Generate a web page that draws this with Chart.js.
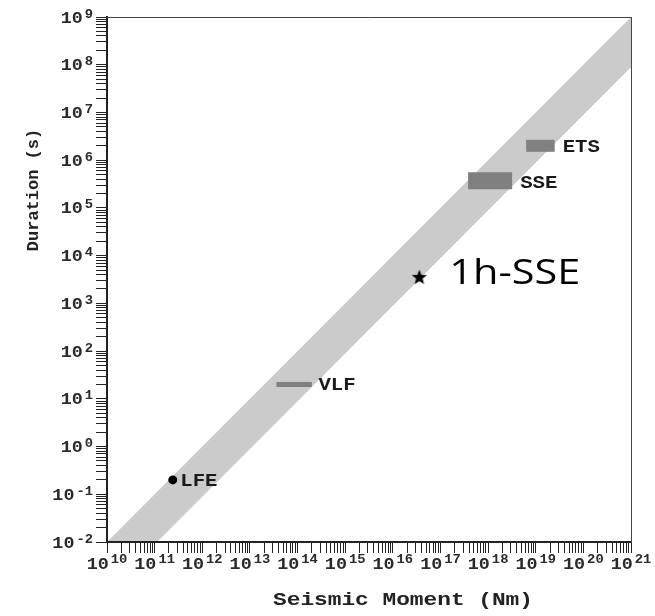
<!DOCTYPE html>
<html>
<head>
<meta charset="utf-8">
<title>Duration vs Seismic Moment</title>
<script src="https://cdn.jsdelivr.net/npm/chart.js@4.4.1/dist/chart.umd.min.js"></script>
<style>
html,body{margin:0;padding:0;background:#ffffff;}
#wrap{position:relative;width:655px;height:616px;}
canvas{display:block;}
</style>
</head>
<body>
<div id="wrap"><canvas id="chart" width="655" height="616"></canvas></div>
<script>
// ---------------- data ----------------
const xExponents = [10, 11, 12, 13, 14, 15, 16, 17, 18, 19, 20, 21];
const yExponents = [-2, -1, 0, 1, 2, 3, 4, 5, 6, 7, 8, 9];
const minorMultipliers = [1, 2, 3, 4, 5, 6, 7, 8, 9];
const xAxisTitle = 'Seismic Moment (Nm)';
const yAxisTitle = 'Duration (s)';

// scaling band (upper and lower edge)
const bandMoment   = [1e10, 1e21];
const bandUpperDur = [1e-2, 1e9];
const bandLowerDur = [8.9e-4, 8.9e7];

// event classes
const lfeMoment  = [2.4e11];          const lfeDuration  = [0.2];
const vlfMoment  = [3.6e13, 2.0e14];  const vlfDuration  = [20, 20];
const sseMoment  = [3.8e17, 3.2e18];  const sseDuration  = [3.7e5, 3.7e5];
const etsMoment  = [6.3e18, 2.5e19];  const etsDuration  = [2.0e6, 2.0e6];
const hsseMoment = [3.6e16];          const hsseDuration = [3600];

const eventLabels = ['LFE', 'VLF', 'SSE', 'ETS', '1h-SSE'];

// ---------------- helpers ----------------
const pts = (xs, ys) => xs.map((x, i) => ({ x: x, y: ys[i] }));

function makeStar(size) {
  const c = document.createElement('canvas');
  c.width = size; c.height = size;
  const g = c.getContext('2d');
  const cx = size / 2, cy = size / 2 + size * 0.05, R = size / 2, r = R * 0.42;
  g.fillStyle = '#000';
  g.beginPath();
  for (let i = 0; i < 10; i++) {
    const a = -Math.PI / 2 + i * Math.PI / 5;
    const rr = (i % 2) ? r : R;
    g.lineTo(cx + rr * Math.cos(a), cy + rr * Math.sin(a));
  }
  g.closePath();
  g.fill();
  return c;
}

function textWidth(ctx, txt, font, sx) {
  ctx.save(); ctx.font = font;
  const w = ctx.measureText(txt).width * sx;
  ctx.restore();
  return w;
}
function drawStretched(ctx, txt, x, y, font, color, sx) {
  ctx.save();
  ctx.font = font; ctx.fillStyle = color;
  ctx.textAlign = 'left'; ctx.textBaseline = 'alphabetic';
  ctx.translate(x, y); ctx.scale(sx, 1);
  ctx.fillText(txt, 0, 0);
  ctx.restore();
}

function logTicks(exps) {
  const out = [];
  exps.forEach((e, i) => {
    minorMultipliers.forEach(m => {
      if (i === exps.length - 1 && m > 1) return;
      out.push({ value: m * Math.pow(10, e) });
    });
  });
  return out;
}

// ---------------- styles ----------------
const MONO = '"Liberation Mono", "DejaVu Sans Mono", monospace';
const tickMain = 'bold 16px ' + MONO;
const tickSup = 'bold 12px ' + MONO;
const tickColor = '#2a2a2a';
const STRETCH = 1.15;
const labelFont = 'bold 18px ' + MONO;
const labelColor = '#1a1a1a';

const textPlugin = {
  id: 'texts',
  afterDraw(chart) {
    const ctx = chart.ctx;
    const xs = chart.scales.x, ys = chart.scales.y;
    const ca = chart.chartArea;

    // event annotations
    chart.data.datasets.forEach((ds, i) => {
      if (!ds.annot) return;
      const meta = chart.getDatasetMeta(i);
      const el = meta.data[meta.data.length - 1];
      const a = ds.annot;
      drawStretched(ctx, a.text, el.x + a.dx, el.y + a.dy, a.font, a.color, a.sx);
    });

    // x tick labels (10^n)
    xExponents.forEach(e => {
      const px = xs.getPixelForValue(Math.pow(10, e));
      const wm = textWidth(ctx, '10', tickMain, STRETCH);
      const wsu = textWidth(ctx, String(e), tickSup, STRETCH);
      const gap = 2;
      const start = px - (wm + gap + wsu) / 2;
      drawStretched(ctx, '10', start, xs.top + 27, tickMain, tickColor, STRETCH);
      drawStretched(ctx, String(e), start + wm + gap, xs.top + 21, tickSup, tickColor, STRETCH);
    });

    // y tick labels (10^n)
    yExponents.forEach(e => {
      const py = ys.getPixelForValue(Math.pow(10, e));
      const wm = textWidth(ctx, '10', tickMain, STRETCH);
      const wsu = textWidth(ctx, String(e), tickSup, STRETCH);
      const gap = 2;
      const right = ys.right - 14;
      const start = right - (wm + gap + wsu);
      drawStretched(ctx, '10', start, py + 5.5, tickMain, tickColor, STRETCH);
      drawStretched(ctx, String(e), start + wm + gap, py + 0.5, tickSup, tickColor, STRETCH);
    });

    // x axis title
    const xtFont = 'bold 19px ' + MONO;
    const xtw = textWidth(ctx, xAxisTitle, xtFont, 1.2);
    const xtc = (ca.left + ca.right) / 2 + 34;
    drawStretched(ctx, xAxisTitle, xtc - xtw / 2, ca.bottom + 63, xtFont, '#222', 1.2);

    // y axis title (rotated)
    const ytFont = 'bold 17px ' + MONO;
    ctx.save();
    ctx.font = ytFont;
    const ytw = ctx.measureText(yAxisTitle).width;
    ctx.translate(38, ca.top + 173);
    ctx.rotate(-Math.PI / 2);
    ctx.fillStyle = '#222';
    ctx.textAlign = 'left'; ctx.textBaseline = 'alphabetic';
    ctx.fillText(yAxisTitle, -ytw / 2, 0);
    ctx.restore();
  }
};

const axisCommon = {
  type: 'logarithmic',
  ticks: { display: false, autoSkip: false },
  grid: { display: true, drawOnChartArea: false, drawTicks: true, tickLength: 11, color: '#222', lineWidth: 1 },
  border: { display: true, color: '#222', width: 2, z: 1 }
};

const chart = new Chart(document.getElementById('chart'), {
  type: 'line',
  data: {
    datasets: [
      { data: pts(vlfMoment, vlfDuration), order: 1, borderColor: '#808080', borderWidth: 5, borderCapStyle: 'butt', pointRadius: 0, fill: false,
        annot: { text: eventLabels[1], dx: 6.5, dy: 6, font: labelFont, color: labelColor, sx: STRETCH } },
      { data: pts(sseMoment, sseDuration), order: 1, borderColor: '#808080', borderWidth: 17, borderCapStyle: 'butt', pointRadius: 0, fill: false,
        annot: { text: eventLabels[2], dx: 8, dy: 7.5, font: labelFont, color: labelColor, sx: STRETCH } },
      { data: pts(etsMoment, etsDuration), order: 1, borderColor: '#808080', borderWidth: 12, borderCapStyle: 'butt', pointRadius: 0, fill: false,
        annot: { text: eventLabels[3], dx: 8, dy: 6.5, font: labelFont, color: labelColor, sx: STRETCH } },
      { data: pts(lfeMoment, lfeDuration), order: 0, showLine: false, pointRadius: 4.5, pointBackgroundColor: '#000', pointBorderWidth: 0, fill: false,
        annot: { text: eventLabels[0], dx: 7.5, dy: 6, font: labelFont, color: labelColor, sx: STRETCH } },
      { data: pts(hsseMoment, hsseDuration), order: 0, showLine: false, pointRadius: 8, pointStyle: makeStar(16), fill: false,
        annot: { text: eventLabels[4], dx: 30, dy: 7, font: '34px "Open Sans", "Noto Sans", sans-serif', color: '#000', sx: 1.22 } },
      { data: pts(bandMoment, bandUpperDur), order: 10, borderWidth: 0, pointRadius: 0, fill: false, borderColor: 'rgba(0,0,0,0)' },
      { data: pts(bandMoment, bandLowerDur), order: 10, borderWidth: 0, pointRadius: 0, fill: '-1', borderColor: 'rgba(0,0,0,0)', backgroundColor: '#cbcbcb' }
    ]
  },
  options: {
    responsive: false,
    animation: false,
    events: [],
    layout: { padding: { left: 0, top: 17, right: 24, bottom: 0 } },
    plugins: { legend: { display: false }, tooltip: { enabled: false } },
    scales: {
      x: Object.assign({}, axisCommon, {
        position: 'bottom', min: 1e10, max: 1e21,
        afterBuildTicks: s => { s.ticks = logTicks(xExponents); },
        afterFit: s => { s.height = 74; }
      }),
      y: Object.assign({}, axisCommon, {
        position: 'left', min: 1e-2, max: 1e9,
        afterBuildTicks: s => { s.ticks = logTicks(yExponents); },
        afterFit: s => { s.width = 107; }
      }),
      xTop: {
        type: 'linear', position: 'top', min: 0, max: 1, display: true,
        ticks: { display: false }, grid: { display: false, drawTicks: false },
        border: { display: true, color: '#444', width: 1, z: 1 },
        afterFit: s => { s.height = 0; }
      },
      yRight: {
        type: 'linear', position: 'right', min: 0, max: 1, display: true,
        ticks: { display: false }, grid: { display: false, drawTicks: false },
        border: { display: true, color: '#444', width: 1, z: 1 },
        afterFit: s => { s.width = 0; }
      }
    }
  },
  plugins: [textPlugin]
});
</script>
</body>
</html>
